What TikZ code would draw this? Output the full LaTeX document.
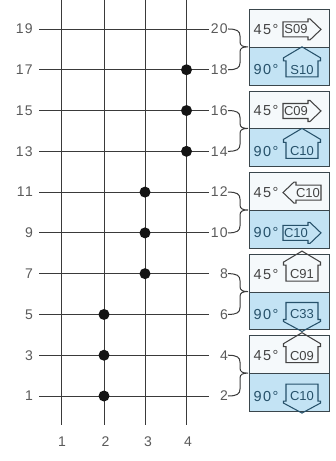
\documentclass[tikz,border=0pt]{standalone}
\usepackage{fontspec}
\setmainfont{Liberation Sans}
\newfontfamily\labfont[LetterSpace=10]{Liberation Sans}
\definecolor{linegray}{HTML}{3A3A3A}
\definecolor{labgray}{HTML}{5A5A5A}
\definecolor{boxedge}{HTML}{3A464C}
\definecolor{upfill}{HTML}{F5F9FB}
\definecolor{lowfill}{HTML}{C3E3F4}
\definecolor{upink}{HTML}{434343}
\definecolor{lowink}{HTML}{26516A}

% icons: #1 name, #2 text centre y, #3 text, #4 colour
\newcommand\icR[4]{%
  \node[icontxt, text=#4] (#1) at (296,#2) {#3};
  \draw[#4, iconline] (283,#2-7.5) -- (308,#2-7.5) -- (308,#2-10.5) -- (310,#2-10.5)
    -- (321,#2) -- (310,#2+10.5) -- (308,#2+10.5) -- (308,#2+7.5) -- (283,#2+7.5) -- cycle;}
\newcommand\icL[4]{%
  \node[icontxt, text=#4] (#1) at (308,#2) {#3};
  \draw[#4, iconline] (321,#2-7.5) -- (296,#2-7.5) -- (296,#2-10.5) -- (294,#2-10.5)
    -- (283,#2) -- (294,#2+10.5) -- (296,#2+10.5) -- (296,#2+7.5) -- (321,#2+7.5) -- cycle;}
\newcommand\icU[4]{%
  \node[icontxt, text=#4] (#1) at (302,#2) {#3};
  \draw[#4, iconline] (286,#2+7) -- (286,#2-9) -- (283.5,#2-9) -- (283.5,#2-12)
    -- (302,#2-23) -- (320.5,#2-12) -- (320.5,#2-9) -- (318,#2-9) -- (318,#2+7) -- cycle;}
\newcommand\icD[4]{%
  \node[icontxt, text=#4] (#1) at (302,#2) {#3};
  \draw[#4, iconline] (286,#2-12) -- (286,#2+5) -- (283.5,#2+5) -- (283.5,#2+7)
    -- (302,#2+17) -- (320.5,#2+7) -- (320.5,#2+5) -- (318,#2+5) -- (318,#2-12) -- cycle;}

% group: #1 id, #2 upper odd row, #3 lower odd row, #4 upper icon, #5 upper text, #6 lower icon, #7 lower text
\newcommand\drawgroup[7]{%
  \pgfmathsetmacro\gyu{396-(#2-1)*20.39}%
  \pgfmathsetmacro\gyl{396-(#3-1)*20.39}%
  \pgfmathsetmacro\gtop{\gyu-20}%
  \pgfmathsetmacro\gbot{\gyl+15}%
  \pgfmathsetmacro\gmid{(\gtop+\gbot)/2}%
  \pgfmathsetmacro\gh{\gmid-\gtop}%
  \pgfmathsetmacro\ghl{\gbot-\gmid}%
  \pgfmathsetmacro\gcu{(\gtop+\gmid)/2+1.5}%
  \pgfmathsetmacro\gcl{(\gmid+\gbot)/2+4}%
  \node[upbox, anchor=north west, minimum height=\gh pt] (ub#1) at (249,\gtop) {};
  \node[lowbox, anchor=north west, minimum height=\ghl pt] (lb#1) at (249,\gmid) {};
  \node[angtxt, text=upink, anchor=west] (ua#1) at (253.5,\gcu) {45°};
  \node[angtxt, text=lowink, anchor=west] (la#1) at (253.5,\gcl) {90°};
  #4{ui#1}{\gcu}{#5}{upink}
  #6{li#1}{\gcl}{#7}{lowink}
  \draw[bracestyle] (228,\gyu) .. controls (237,\gyu) and (240,\gyu+2) .. (240,\gyu+7)
     -- (240,\gmid-5) .. controls (240,\gmid-1) and (243,\gmid) .. (248,\gmid)
     .. controls (243,\gmid) and (240,\gmid+1) .. (240,\gmid+5)
     -- (240,\gyl-7) .. controls (240,\gyl-2) and (237,\gyl) .. (228,\gyl);
}

\begin{document}
\begin{tikzpicture}[x=1pt,y=-1pt,
  every node/.style={inner sep=0pt},
  numlab/.style={font=\labfont\fontsize{14}{14}\selectfont, text=labgray},
  gridline/.style={draw=linegray, line width=0.9pt},
  dot/.style={circle, fill=black!92, minimum size=11pt, inner sep=0pt},
  upbox/.style={draw=boxedge, fill=upfill, line width=1pt, minimum width=80pt, inner sep=0pt},
  lowbox/.style={upbox, fill=lowfill},
  angtxt/.style={font=\labfont\fontsize{14.5}{14.5}\selectfont},
  icontxt/.style={font=\fontsize{13}{13}\selectfont},
  iconline/.style={line width=1.05pt, line join=miter},
  bracestyle/.style={draw=linegray, line width=1pt}
]
\useasboundingbox[fill=white] (0,0) rectangle (336,461);

% vertical lines and bottom labels
\foreach \c/\x/\lx in {1/61.5/62,2/104/105.5,3/145/148,4/186.5/188}{
  \coordinate (t\c) at (\x,0);
  \coordinate (e\c) at (\x,425);
  \node[numlab] (b\c) at (\lx,442) {\c};
  \draw[gridline] (t\c) -- (e\c);
}

% horizontal lines with labels
\foreach \k in {1,3,...,19}{
  \pgfmathsetmacro\yy{396-(\k-1)*20.39}
  \pgfmathtruncatemacro\n{\k+1}
  \node[numlab, anchor=east] (l\k) at (33,\yy) {\k};
  \node[numlab, anchor=east] (r\n) at (228,\yy) {\n};
  \coordinate (a\k) at (39,\yy);
  \coordinate (z\k) at (209,\yy);
  \draw[gridline] (a\k) -- (z\k);
}

% dots
\foreach \k/\x in {1/104,3/104,5/104,7/145,9/145,11/145,13/186.5,15/186.5,17/186.5}{
  \pgfmathsetmacro\yy{396-(\k-1)*20.39}
  \node[dot] (d\k) at (\x,\yy) {};
}

% groups
\drawgroup{1}{19}{17}{\icR}{S09}{\icU}{S10}
\drawgroup{2}{15}{13}{\icR}{C09}{\icU}{C10}
\drawgroup{3}{11}{9}{\icL}{C10}{\icR}{C10}
\drawgroup{4}{7}{5}{\icU}{C91}{\icD}{C33}
\drawgroup{5}{3}{1}{\icU}{C09}{\icD}{C10}
\end{tikzpicture}
\end{document}
